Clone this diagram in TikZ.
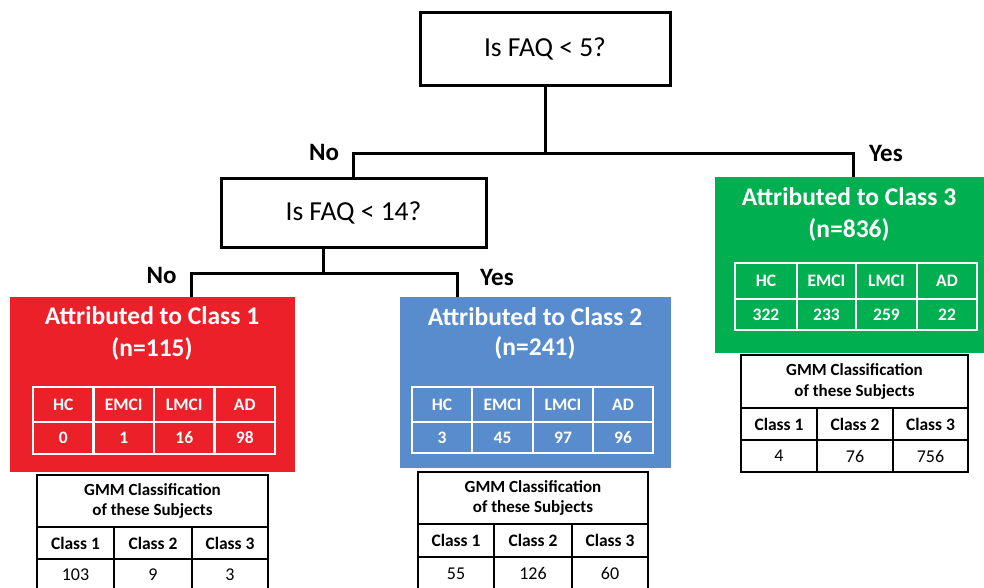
\documentclass[tikz,border=0pt]{standalone}
\usepackage{fontspec}
\setmainfont{Carlito}
\usetikzlibrary{calc}
\definecolor{cred}{RGB}{236,32,40}
\definecolor{cblue}{RGB}{88,140,204}
\definecolor{cgreen}{RGB}{0,176,80}
\begin{document}
\begin{tikzpicture}[x=1pt,y=-1pt,
  conn/.style={line width=3pt},
  qbox/.style={draw, line width=3pt, rectangle, inner sep=0, font=\fontsize{27.5}{30}\selectfont},
  cbox/.style={rectangle, inner sep=0},
  wgrid/.style={draw=white, line width=2.5pt},
  bgrid/.style={draw=black, line width=1.4pt},
  ttl/.style={text=white, font=\bfseries\fontsize{25.5}{28}\selectfont, inner sep=0},
  hdr/.style={text=white, font=\bfseries\fontsize{17.5}{19}\selectfont, inner sep=0},
  gh/.style={font=\bfseries\fontsize{17}{20.5}\selectfont, inner sep=0, align=center},
  gc/.style={font=\bfseries\fontsize{17.5}{19}\selectfont, inner sep=0},
  gn/.style={font=\fontsize{18}{20}\selectfont, inner sep=0},
  lbl/.style={font=\bfseries\fontsize{25}{28}\selectfont, inner sep=0}]
\useasboundingbox (0,0) rectangle (984,587);
\clip (0,0) rectangle (984,587);

% question boxes
\node[qbox, minimum width=250, minimum height=73] (q1) at (545,48.5) {Is FAQ < 5?};
\node[qbox, minimum width=265, minimum height=69] (q2) at (353.5,212.5) {Is FAQ < 14?};

% class boxes
\node[cbox, fill=cred, minimum width=285, minimum height=175] (c1) at (152.5,384.5) {};
\node[cbox, fill=cblue, minimum width=271, minimum height=171] (c2) at (535.5,382.5) {};
\node[cbox, fill=cgreen, minimum width=269, minimum height=176] (c3) at (849.5,265) {};

% connectors
\coordinate (j1) at (545,153);
\draw[conn] (q1.south) -- (j1);
\draw[conn] (j1) -| (q2.north);
\draw[conn] (j1) -| ([xshift=3.5]c3.north);
\coordinate (j2) at (323,273);
\draw[conn] (q2.south -| j2) -- (j2);
\draw[conn] (j2) -| ([xshift=39]c1.north);
\draw[conn] (j2) -| ([xshift=-78.5]c2.north);

% branch labels
\node[lbl] (l1) at (324,152) {No};
\node[lbl] (l2) at (886,153) {Yes};
\node[lbl] (l3) at (161.5,275) {No};
\node[lbl] (l4) at (497,277) {Yes};

% titles
\node[ttl] (t1) at (152,316) {Attributed to Class 1};
\node[ttl] (n1) at (152,349) {(n=115)};
\node[ttl] (t2) at (535,317) {Attributed to Class 2};
\node[ttl] (n2) at (535,348) {(n=241)};
\node[ttl] (t3) at (849,197) {Attributed to Class 3};
\node[ttl] (n3) at (849,230) {(n=836)};

% red inner table
\draw[wgrid] (33,387) rectangle (275,454);
\draw[wgrid] (33,422) -- (275,422);
\foreach \xx in {93.5,154,214.5} \draw[wgrid] (\xx,387) -- (\xx,454);
\foreach \xx/\h/\v [count=\i] in {63.25/HC/0, 123.75/EMCI/1, 184.25/LMCI/16, 244.75/AD/98} {
  \node[hdr] (rh\i) at (\xx,404.5) {\h};
  \node[hdr] (rv\i) at (\xx,438) {\v};
}
% blue inner table
\draw[wgrid] (412,387) rectangle (653,453);
\draw[wgrid] (412,422) -- (653,422);
\foreach \xx in {472,533,593} \draw[wgrid] (\xx,387) -- (\xx,453);
\foreach \xx/\h/\v [count=\i] in {442/HC/3, 502.5/EMCI/45, 563/LMCI/97, 623/AD/96} {
  \node[hdr] (bh\i) at (\xx,404.5) {\h};
  \node[hdr] (bv\i) at (\xx,437.5) {\v};
}
% green inner table
\draw[wgrid] (735,263) rectangle (977,330);
\draw[wgrid] (735,299) -- (977,299);
\foreach \xx in {797,856,917} \draw[wgrid] (\xx,263) -- (\xx,330);
\foreach \xx/\h/\v [count=\i] in {766/HC/322, 826.5/EMCI/233, 886.5/LMCI/259, 947/AD/22} {
  \node[hdr] (gh\i) at (\xx,281) {\h};
  \node[hdr] (gv\i) at (\xx,314.5) {\v};
}

% red GMM table
\draw[bgrid] (37,475) rectangle (268,591);
\draw[bgrid] (37,527) -- (268,527);
\draw[bgrid] (37,559) -- (268,559);
\foreach \xx in {114,192} \draw[bgrid] (\xx,527) -- (\xx,591);
\node[gh] (rgh) at (152.5,501) {GMM Classification\\of these Subjects};
\foreach \xx/\c/\v [count=\i] in {75.5/Class 1/103, 153/Class 2/9, 230/Class 3/3} {
  \node[gc] (rgc\i) at (\xx,543) {\c};
  \node[gn] (rgv\i) at (\xx,575) {\v};
}
% blue GMM table
\draw[bgrid] (418,472) rectangle (648,590);
\draw[bgrid] (418,524) -- (648,524);
\draw[bgrid] (418,557) -- (648,557);
\foreach \xx in {494,572} \draw[bgrid] (\xx,524) -- (\xx,590);
\node[gh] (bgh) at (533,498) {GMM Classification\\of these Subjects};
\foreach \xx/\c/\v [count=\i] in {456/Class 1/55, 533/Class 2/126, 610/Class 3/60} {
  \node[gc] (bgc\i) at (\xx,540.5) {\c};
  \node[gn] (bgv\i) at (\xx,573.5) {\v};
}
% green GMM table
\draw[bgrid] (741,355) rectangle (968,472);
\draw[bgrid] (741,408) -- (968,408);
\draw[bgrid] (741,440) -- (968,440);
\foreach \xx in {817,893} \draw[bgrid] (\xx,408) -- (\xx,472);
\node[gh] (ggh) at (854.5,381.5) {GMM Classification\\of these Subjects};
\foreach \xx/\c/\v [count=\i] in {779/Class 1/4, 855/Class 2/76, 930.5/Class 3/756} {
  \node[gc] (ggc\i) at (\xx,424) {\c};
  \node[gn] (ggv\i) at (\xx,456) {\v};
}
\end{tikzpicture}
\end{document}
